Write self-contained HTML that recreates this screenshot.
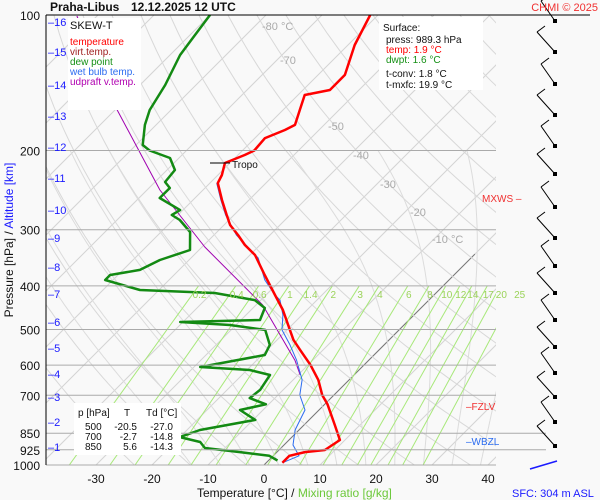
<!DOCTYPE html>
<html><head><meta charset="utf-8"><style>
html,body{margin:0;padding:0;background:#fff}
svg{display:block;font-family:"Liberation Sans",sans-serif}
</style></head><body>
<svg id="c" width="600" height="500" viewBox="0 0 600 500" xmlns="http://www.w3.org/2000/svg">
<rect x="0" y="0" width="600" height="500" fill="#f9f9f9"/>
<defs><clipPath id="pc"><rect x="46" y="15" width="450" height="450"/></clipPath></defs>
<g id="grid" clip-path="url(#pc)"></g>
<g id="series" clip-path="url(#pc)"></g>
<g id="over"></g>
</svg>
<script>
// ---- data ----
const tempP=[100,116.6,135.9,146.8,150.6,162.6,175.5,180.1,187.7,200,204.7,213.3,226.8,236.3,257.8,278.3,292.9,308.3,324.4,341.5,378.3,419,452.5,501,527,555,599,647,699,733,815,880,926,936,954,989];
const tempT=[-61.4,-58.8,-55.2,-55.2,-58.8,-57,-55.2,-56.1,-58.2,-57.9,-58.8,-60.9,-59.3,-58.6,-54.8,-51.3,-48.9,-45.7,-42.7,-39.1,-33.8,-28.4,-24.3,-19.5,-17.1,-14.1,-9.6,-5.5,-2.1,0.5,5.5,9.1,8.2,5,2.9,2.9];
const dewP=[100,110.8,122.7,143.1,162.6,175.5,194.5,200,207.9,221,235,242.3,255.1,271.3,278.3,285.4,303.5,332.9,350.3,368.6,378.3,388,408.4,414.8,430,447.8,476.2,481,488.5,501,541,569.6,605.6,615,631,681,710,733,754.7,794,836,866.8,889,916.6,936,954,977];
const dewT=[-90,-89.1,-88.2,-85.5,-83.8,-82,-78.8,-76.6,-71.6,-68.6,-68.2,-66.3,-66.3,-60.5,-61.1,-58.8,-54.8,-51.6,-55.2,-57,-61.4,-61.4,-53.4,-39.5,-31.1,-27.9,-26.6,-40.5,-31.1,-23.9,-20.4,-19.5,-28.9,-19.5,-15,-14.1,-14.5,-10.5,-14.1,-9.6,-17.7,-20,-15.5,-13.6,-6.6,-0.7,1.6];
const wbP=[236.3,257.8,278.3,308.3,346.7,388,419,430,464.2,501,541,584.8,647,699,754.7,794,836,902.6,954,989];
const wbT=[-58.8,-55,-51.5,-46,-38,-32.9,-28.4,-26.6,-23.4,-20.9,-16.8,-12.9,-8.4,-6.1,-2.5,-1.6,-0.7,1.6,4.6,2.9];
const upP=[100.5,162.6,244.8,327.8,441,584.8,631];
const upT=[-113.6,-89.6,-67.7,-49.5,-28.8,-13.2,-9.6];
const isobars=[200,300,400,500,600,700,850,925];
const pLabels=[100,200,300,400,500,600,700,850,925,1000];
const tTicks=[-30,-20,-10,0,10,20,30,40];
const mixR=[0.2,0.4,0.6,1,1.4,2,3,4,6,8,10,12,14,17,20,25];
const altKm=[1,2,3,4,5,6,7,8,9,10,11,12,13,14,15,16];
const altY=[447,422,397,374,348,322,294,267,238,210,178,147,116,85,52,22];
const isoLab=[-80,-70,-50,-40,-30,-20,-10];

// ---- axes ----
const NS="http://www.w3.org/2000/svg";
function yP(p){return 15+450*Math.log10(p/100);}
function xT(T,p){return 264+5.6*T+(465-yP(p));}
function mk(tag,attrs,parent){const e=document.createElementNS(NS,tag);for(const k in attrs)e.setAttribute(k,attrs[k]);parent.appendChild(e);return e;}
function txt(s,attrs,parent){const e=mk('text',attrs,parent);e.textContent=s;return e;}
const grid=document.getElementById('grid'),ser=document.getElementById('series'),over=document.getElementById('over');

// isotherms
for(let T=-160;T<=50;T+=10){
  const l=mk('line',{x1:xT(T,1000),y1:yP(1000),x2:xT(T,100),y2:yP(100),stroke:'#d4d4d4','stroke-width':1},grid);
  
  
}
const zl=mk('line',{x1:xT(0,1000),y1:yP(1000),x2:xT(0,340),y2:yP(340),stroke:'#777','stroke-width':1},grid);


// dry adiabats
for(let th=250;th<=480;th+=10){
  let d='';
  for(let p=1050;p>=100;p-=10){const T=th*Math.pow(p/1000,0.286)-273.15;d+=(d?'L':'M')+xT(T,p).toFixed(1)+','+yP(p).toFixed(1);}
  const e=mk('path',{d:d,fill:'none',stroke:'#d8d8d8','stroke-width':1},grid);
  
  
}
// moist adiabats
function es(T){return 6.112*Math.exp(17.67*T/(T+243.5));}
for(let T0=-10;T0<=40;T0+=5){
  let T=T0,d='';
  for(let p=1050;p>=200;p-=5){
    d+=(d?'L':'M')+xT(T,p).toFixed(1)+','+yP(p).toFixed(1);
    const Tk=T+273.15,rs=0.622*es(T)/(p-es(T));
    const dTdp=(287*Tk+2.5e6*rs)/(1005+2.5e6*2.5e6*rs*0.622/(287*Tk*Tk))/p;
    T-=dTdp*5;
  }
  const e=mk('path',{d:d,fill:'none',stroke:'#dcdcdc','stroke-width':1},grid);
  
  
}
// mixing ratio
function tdOf(w,p){const e=w*p/(622+w);const l=Math.log(e/6.112);return 243.5*l/(17.67-l);}
mixR.forEach(w=>{
  const e=mk('line',{x1:xT(tdOf(w,1050),1050),y1:yP(1050),x2:xT(tdOf(w,400),400),y2:yP(400),stroke:'#a8e87a','stroke-width':1},grid);
  
  
  const t=txt(String(w),{x:xT(tdOf(w,400),400)+1,y:298,'font-size':10,fill:'#9bd35a','text-anchor':'middle'},over);
  
  
});
// isobars
isobars.forEach(p=>{
  const right=(p>=850)?546:496;
  const e=mk('line',{x1:46,y1:yP(p),x2:right,y2:yP(p),stroke:'#aaa','stroke-width':1},over);
  
  
});
mk('line',{x1:46,y1:465,x2:496,y2:465,stroke:'#aaa'},over);
const isoPos=[[262,30],[280,64],[328,130],[353,159],[380,188],[410,216],[432,243]];
isoPos.forEach((a,i)=>{
  const t=txt(isoLab[i]+((i===0||i===6)?' °C':''),{x:a[0],y:a[1],'font-size':11,fill:'#aaa'},over);
  
  
});
// series
function line(P,T,color,w,name){
  let d='';P.forEach((p,i)=>{d+=(i?'L':'M')+xT(T[i],p).toFixed(1)+','+yP(p).toFixed(1);});
  const e=mk('path',{d:d,fill:'none',stroke:color,'stroke-width':w,'stroke-linejoin':'round'},ser);
  
  
}
line(upP,upT,'#a000b0',1,'updraft-line');
line(wbP,wbT,'#2b6cf0',1,'wet-bulb-line');
line(dewP,dewT,'#138a13',2.5,'dew-point-line');
line(tempP,tempT,'#ff0000',2.5,'temperature-line');

// frame
mk('line',{x1:46,y1:15,x2:590,y2:15,stroke:'#000'},over);
mk('line',{x1:46,y1:15,x2:46,y2:465,stroke:'#000'},over);
pLabels.forEach(p=>{
  const t=txt(String(p),{x:40,y:yP(p)+5,'font-size':12,fill:'#111','text-anchor':'end'},over);
  
  
});
altKm.forEach((k,i)=>{
  const t=txt('\u2013'+k,{x:48,y:altY[i]+4,'font-size':11,fill:'#1a1aff'},over);
  
  
});
tTicks.forEach(T=>{
  const t=txt(String(T),{x:264+5.6*T,y:483,'font-size':12,fill:'#111','text-anchor':'middle'},over);
  
  
});
// wind barbs
const wy=[21,52,84,115,146,174,207,238,266,293,320,347,373,397,422,446];
wy.forEach((y,i)=>{
  const dx=(i%2?-18:-14),dy=-20;
  const g=mk('g',{},over);
  
  
  mk('line',{x1:555,y1:y,x2:555+dx,y2:y+dy,stroke:'#000'},g);
  mk('line',{x1:555+dx,y1:y+dy,x2:555+dx+8,y2:y+dy-6,stroke:'#000'},g);
  mk('rect',{x:553,y:y-2,width:4,height:4,fill:'#000'},g);
});
mk('line',{x1:530,y1:469,x2:557,y2:461,stroke:'#1a1aff','stroke-width':1.5},over);
</script>
<svg width="600" height="500" style="position:absolute;left:0;top:0" font-family="Liberation Sans, sans-serif">
<text x="50" y="11" font-size="12" font-weight="bold" fill="#111">Praha-Libus</text>
<text x="131" y="11" font-size="12" font-weight="bold" fill="#111">12.12.2025 12 UTC</text>
<text x="598" y="11" font-size="11" fill="#f03030" text-anchor="end">CHMI © 2025</text>
<g>
<rect x="68" y="18" width="73" height="92" fill="#fff"/>
<text x="70" y="29" font-size="11" fill="#111">SKEW-T</text>
<text x="70" y="45" font-size="10" fill="#f00">temperature</text>
<text x="70" y="55" font-size="10" fill="#a02020">virt.temp.</text>
<text x="70" y="65" font-size="10" fill="#159015">dew point</text>
<text x="70" y="75" font-size="10" fill="#2b6cf0">wet bulb temp.</text>
<text x="70" y="85" font-size="10" fill="#b000b0">udpraft v.temp.</text>
</g>
<g>
<rect x="379" y="17" width="104" height="73" fill="#fff"/>
<text x="383" y="31" font-size="10" fill="#111">Surface:</text>
<text x="386" y="43" font-size="10" fill="#111">press: 989.3 hPa</text>
<text x="386" y="53" font-size="10" fill="#f00">temp: 1.9 °C</text>
<text x="386" y="63" font-size="10" fill="#159015">dwpt: 1.6 °C</text>
<text x="386" y="77" font-size="10" fill="#111">t-conv: 1.8 °C</text>
<text x="386" y="88" font-size="10" fill="#111">t-mxfc: 19.9 °C</text>
</g>
<g>
<rect x="74" y="403" width="107" height="52" fill="#fff"/>
<text x="78" y="416" font-size="10" fill="#111">p [hPa]</text><text x="124" y="416" font-size="10" fill="#111">T</text><text x="146" y="416" font-size="10" fill="#111">Td [°C]</text>
<text x="85" y="430" font-size="10" fill="#111">500</text><text x="137" y="430" font-size="10" fill="#111" text-anchor="end">-20.5</text><text x="173" y="430" font-size="10" fill="#111" text-anchor="end">-27.0</text>
<text x="85" y="440" font-size="10" fill="#111">700</text><text x="137" y="440" font-size="10" fill="#111" text-anchor="end">-2.7</text><text x="173" y="440" font-size="10" fill="#111" text-anchor="end">-14.8</text>
<text x="85" y="450" font-size="10" fill="#111">850</text><text x="137" y="450" font-size="10" fill="#111" text-anchor="end">5.6</text><text x="173" y="450" font-size="10" fill="#111" text-anchor="end">-14.3</text>
</g>
<line x1="210" y1="163" x2="230" y2="163" stroke="#000"/>
<text x="232" y="168" font-size="10" fill="#111">Tropo</text>
<text x="482" y="202" font-size="10" fill="#f03030">MXWS –</text>
<text x="466" y="410" font-size="10" fill="#f03030">–FZLV</text>
<text x="466" y="445" font-size="10" fill="#2b6cf0">–WBZL</text>
<text x="13" y="240" font-size="12" fill="#111" text-anchor="middle" transform="rotate(-90 13 240)">Pressure [hPa]  /  <tspan fill="#1a1aff">Altitude [km]</tspan></text>
<text x="197" y="497" font-size="12" fill="#111">Temperature [°C]  /  <tspan fill="#6cc83a">Mixing ratio [g/kg]</tspan></text>
<text x="512" y="497" font-size="11" fill="#1a1aff">SFC: 304 m ASL</text>
</svg>
</body></html>
